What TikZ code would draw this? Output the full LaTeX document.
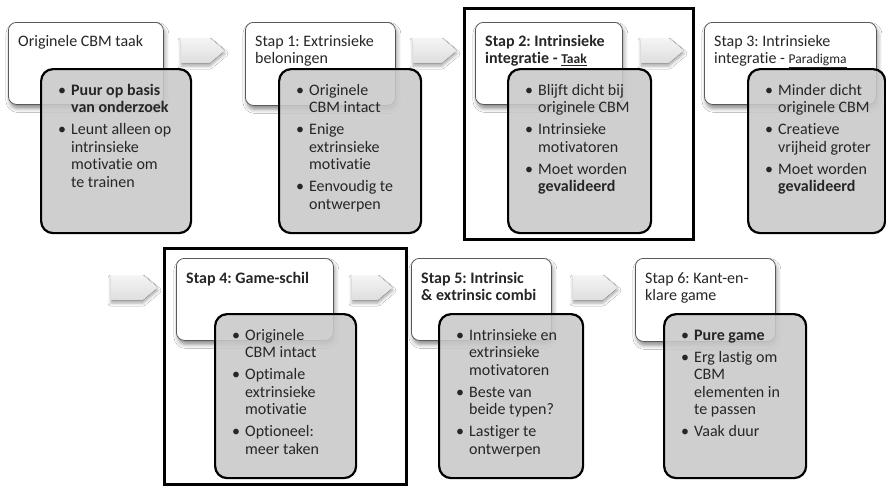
\documentclass[tikz,border=0pt]{standalone}
\usepackage{fontspec}
\setmainfont{Carlito}[Ligatures=NoCommon]
\usetikzlibrary{shadows.blur}
\frenchspacing
\newcommand\bu{\makebox[13pt][l]{\textbullet}}
\newcommand\ind{\hspace*{13pt}}
\newcommand\ulsmall[1]{\underline{\fontsize{13.5}{14}\selectfont #1}}
\tikzset{
  wbox/.style={draw=black!65, line width=0.8pt, rounded corners=8pt, fill=white, anchor=north west,
    blur shadow={shadow xshift=1.5pt, shadow yshift=-4pt, shadow blur radius=4pt, shadow opacity=45}},
  gbox/.style={draw=black, line width=2.2pt, rounded corners=12pt, fill=black!21, fill opacity=0.88, anchor=north west},
  framebox/.style={draw=black, line width=2.6pt, anchor=north west},
  garrow/.style={top color=black!4, bottom color=black!13, draw=none,
    blur shadow={shadow xshift=0pt, shadow yshift=-3pt, shadow blur radius=3pt, shadow opacity=35}},
  ttl/.style={anchor=north west, inner sep=0pt, align=left, font=\fontsize{16}{17.5}\selectfont, text=black!85},
}
\newcommand\blockarrow[5]{%
  \fill[garrow] (#1,#3) -- (#2-15,#3) -- (#2,{(#3+#4)/2}) -- (#2-15,#4) -- (#1,#4) -- cycle;}
\begin{document}
\begin{tikzpicture}[x=1pt,y=-1pt]
\useasboundingbox (0,0) rectangle (886,485);
\fill[white] (0,0) rectangle (886,485);

% block arrows
\blockarrow{181}{225}{38}{63}{a1}
\blockarrow{413}{457}{38}{63}{a2}
\blockarrow{641}{684}{38}{63}{a3}
\blockarrow{111}{158}{275}{300}{a4}
\blockarrow{352}{393}{275}{300}{a5}
\blockarrow{573}{618}{275}{300}{a6}

% white title boxes
\node[wbox, minimum width=155pt, minimum height=82pt] (w1) at (8,22) {};
\node[wbox, minimum width=150pt, minimum height=83pt] (w2) at (245,22) {};
\node[wbox, minimum width=147pt, minimum height=82pt] (w3) at (475,22) {};
\node[wbox, minimum width=172pt, minimum height=82pt] (w4) at (704,22) {};
\node[wbox, minimum width=157pt, minimum height=82pt] (w5) at (176,258) {};
\node[wbox, minimum width=140pt, minimum height=82pt] (w6) at (411,258) {};
\node[wbox, minimum width=140pt, minimum height=83pt] (w7) at (635,258) {};

% titles
\node[ttl] (t1) at (18,33.8) {\strut Originele CBM taak};
\node[ttl] (t2) at (255,33.8) {\strut Stap 1: Extrinsieke\\beloningen};
\node[ttl] (t3) at (485,33.8) {\strut\textbf{Stap 2: Intrinsieke}\\\textbf{integratie - \ulsmall{Taak}}};
\node[ttl] (t4) at (714,33.8) {\strut Stap 3: Intrinsieke\\integratie - \ulsmall{Paradigma}};
\node[ttl] (t5) at (186,270.8) {\strut\textbf{Stap 4: Game-schil}};
\node[ttl] (t6) at (421,270.8) {\strut\textbf{Stap 5: Intrinsic}\\\textbf{\& extrinsic combi}};
\node[ttl] (t7) at (645,270.8) {\strut Stap 6: Kant-en-\\klare game};

% grey detail boxes
\node[gbox, minimum width=150pt, minimum height=164pt] (g1) at (40,68) {};
\node[gbox, minimum width=142pt, minimum height=164pt] (g2) at (278,68) {};
\node[gbox, minimum width=143pt, minimum height=164pt] (g3) at (507,68) {};
\node[gbox, minimum width=137pt, minimum height=164pt] (g4) at (747,68) {};
\node[gbox, minimum width=141pt, minimum height=164pt] (g5) at (214,313) {};
\node[gbox, minimum width=144pt, minimum height=164pt] (g6) at (438,313) {};
\node[gbox, minimum width=142pt, minimum height=164pt] (g7) at (663,313) {};

% bullet texts
\node[ttl] (b1) at (58,82.8) {\strut\bu\textbf{Puur op basis}\\\ind\textbf{van onderzoek}\\[4.6pt]
  \bu Leunt alleen op\\\ind intrinsieke\\\ind motivatie om\\\ind te trainen};
\node[ttl] (b2) at (296,82.8) {\strut\bu Originele\\\ind CBM intact\\[4.6pt]
  \bu Enige\\\ind extrinsieke\\\ind motivatie\\[4.6pt]
  \bu Eenvoudig te\\\ind ontwerpen};
\node[ttl] (b3) at (525,82.8) {\strut\bu Blijft dicht bij\\\ind originele CBM\\[4.6pt]
  \bu Intrinsieke\\\ind motivatoren\\[4.6pt]
  \bu Moet worden\\\ind\textbf{gevalideerd}};
\node[ttl] (b4) at (765,82.8) {\strut\bu Minder dicht\\\ind originele CBM\\[4.6pt]
  \bu Creatieve\\\ind vrijheid groter\\[4.6pt]
  \bu Moet worden\\\ind\textbf{gevalideerd}};
\node[ttl] (b5) at (232,327.8) {\strut\bu Originele\\\ind CBM intact\\[4.6pt]
  \bu Optimale\\\ind extrinsieke\\\ind motivatie\\[4.6pt]
  \bu Optioneel:\\\ind meer taken};
\node[ttl] (b6) at (456,327.8) {\strut\bu Intrinsieke en\\\ind extrinsieke\\\ind motivatoren\\[4.6pt]
  \bu Beste van\\\ind beide typen?\\[4.6pt]
  \bu Lastiger te\\\ind ontwerpen};
\node[ttl] (b7) at (681,327.8) {\strut\bu\textbf{Pure game}\\[4.6pt]
  \bu Erg lastig om\\\ind CBM\\\ind elementen in\\\ind te passen\\[4.6pt]
  \bu Vaak duur};

% highlight frames
\node[framebox, minimum width=229pt, minimum height=231pt] (f1) at (463,7) {};
\node[framebox, minimum width=242pt, minimum height=236pt] (f2) at (163,247) {};
\end{tikzpicture}
\end{document}
